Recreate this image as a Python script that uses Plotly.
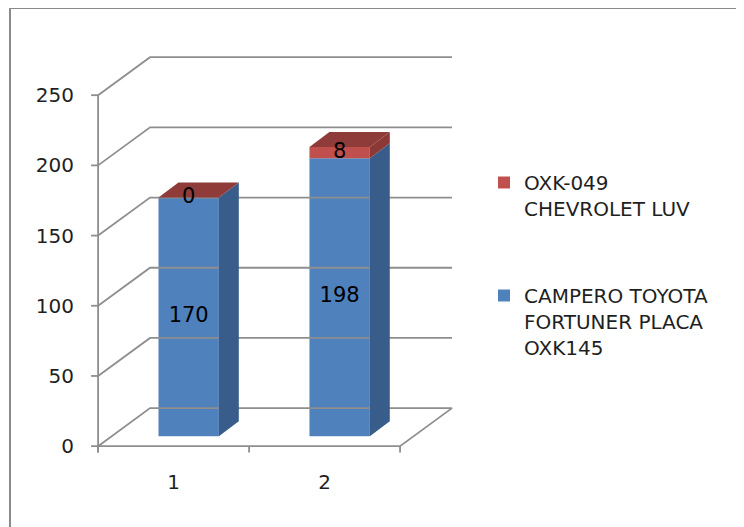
import plotly.graph_objects as go

# ---------------- data ----------------
categories = [1, 2]
category_labels = ["1", "2"]
series_names = ["CAMPERO TOYOTA<br>FORTUNER PLACA<br>OXK145", "OXK-049<br>CHEVROLET LUV"]
campero_values = [170, 198]
chevrolet_values = [0, 8]
y_ticks = [0, 50, 100, 150, 200, 250]

# ---------------- style / geometry constants ----------------
FONT = "DejaVu Sans"
FS = 20
TXT = "#1f1f1f"
GRID = "#8e8e8e"
FRONT_COLORS = ["#4F81BD", "#C0504D"]
SIDE_COLORS = ["#385D8A", "#8C3836"]
TOP_COLOR = "#8E3B39"
WALL_DX, WALL_DY = 0.344, 27.1      # depth of the box (x units, y units)
BAR_FDX, BAR_FDY = 0.10, 7.1        # bar front face offset inside depth
BAR_DDX, BAR_DDY = 0.132, 10.7      # bar depth
BAR_W = 0.4
X0, X1 = 0.5, 2.5                   # category axis extents
XR = [0.4, 2.95]
YR = [-12, 300]
OFF = 8                              # page body offset
ML, MR, MT, MB = 83 - OFF, 276 + OFF, 25 - OFF, 64 + OFF

fig = go.Figure()

def seg(xs, ys, color=GRID, width=1.8):
    fig.add_trace(go.Scatter(x=xs, y=ys, mode="lines", line=dict(color=color, width=width),
                             hoverinfo="skip", showlegend=False))

# back wall gridlines + left wall diagonals
for v in y_ticks:
    if v == 0:
        continue
    seg([X0, X0 + WALL_DX, X1 + WALL_DX], [v, v + WALL_DY, v + WALL_DY])
# floor
seg([X0, X1, X1 + WALL_DX, X0 + WALL_DX, X0], [0, 0, WALL_DY, WALL_DY, 0])
# front y axis line and ticks
seg([X0, X0], [-4.5, y_ticks[-1]])
for v in y_ticks:
    seg([X0 - 7 / 151, X0], [v, v])
# x ticks at category boundaries
for b in [X0] + [c + 0.5 for c in categories]:
    seg([b, b], [0, -4.5])

# ---------------- bars ----------------
series = [campero_values, chevrolet_values]
cum = [0.0 for _ in categories]
for si, vals in enumerate(series):
    xs = [c + BAR_FDX for c in categories]
    bases = [BAR_FDY + cum[i] for i in range(len(categories))]
    fig.add_trace(go.Bar(x=xs, y=vals, base=bases, width=BAR_W,
                         marker=dict(color=FRONT_COLORS[si], line=dict(width=0)),
                         name=series_names[si], legendgroup=str(si),
                         legendrank=10 - si, showlegend=True, hoverinfo="skip"))
    for i, c in enumerate(categories):
        xr = c + BAR_FDX + BAR_W / 2
        y0 = bases[i]
        y1 = bases[i] + vals[i]
        if vals[i] > 0:
            fig.add_trace(go.Scatter(
                x=[xr, xr + BAR_DDX, xr + BAR_DDX, xr, xr],
                y=[y0, y0 + BAR_DDY, y1 + BAR_DDY, y1, y0],
                mode="lines", fill="toself", fillcolor=SIDE_COLORS[si],
                line=dict(width=0, color=SIDE_COLORS[si]), hoverinfo="skip", showlegend=False))
    cum = [cum[i] + vals[i] for i in range(len(categories))]

# top faces
for i, c in enumerate(categories):
    xl = c + BAR_FDX - BAR_W / 2
    xr = c + BAR_FDX + BAR_W / 2
    yt = BAR_FDY + cum[i]
    fig.add_trace(go.Scatter(
        x=[xl, xr, xr + BAR_DDX, xl + BAR_DDX, xl],
        y=[yt, yt, yt + BAR_DDY, yt + BAR_DDY, yt],
        mode="lines", fill="toself", fillcolor=TOP_COLOR,
        line=dict(width=0, color=TOP_COLOR), hoverinfo="skip", showlegend=False))

# data labels
cum = [0.0 for _ in categories]
for si, vals in enumerate(series):
    fig.add_trace(go.Scatter(
        x=[c + BAR_FDX for c in categories],
        y=[BAR_FDY + cum[i] + vals[i] / 2 for i in range(len(categories))],
        mode="text", text=[str(v) for v in vals], textposition="middle center",
        textfont=dict(family=FONT, size=FS + 1, color="#000000"),
        hoverinfo="skip", showlegend=False, cliponaxis=False))
    cum = [cum[i] + vals[i] for i in range(len(categories))]

W, H = 744, 527
pw = W - ML - MR
ph = H - MT - MB
def px_to_paper_x(px):
    return (px - OFF - ML) / pw
def py_to_paper_y(py):
    return (H - MB - (py - OFF)) / ph

fig.update_layout(
    width=W, height=H,
    margin=dict(l=ML, r=MR, t=MT, b=MB, autoexpand=False),
    paper_bgcolor="white", plot_bgcolor="rgba(0,0,0,0)",
    barmode="overlay",
    font=dict(family=FONT, size=FS, color=TXT),
    xaxis=dict(range=XR, showgrid=False, zeroline=False, showline=False,
               tickmode="array", tickvals=categories, ticktext=category_labels,
               ticks="", ticklabelstandoff=5, fixedrange=True),
    yaxis=dict(range=YR, showgrid=False, zeroline=False, showline=False,
               tickmode="array", tickvals=y_ticks, ticktext=[str(v) for v in y_ticks],
               ticks="", ticklabelstandoff=8, fixedrange=True),
    legend=dict(x=px_to_paper_x(484), y=py_to_paper_y(163), xanchor="left", yanchor="top",
                valign="top", tracegroupgap=58, bgcolor="rgba(0,0,0,0)",
                font=dict(family=FONT, size=FS, color=TXT), itemclick=False),
    shapes=[dict(type="rect", xref="paper", yref="paper",
                 x0=px_to_paper_x(10), x1=px_to_paper_x(800),
                 y0=py_to_paper_y(580), y1=py_to_paper_y(8),
                 line=dict(color="#8a8a8a", width=2), fillcolor="rgba(0,0,0,0)", layer="below")],
)

fig.write_html("out.html")
